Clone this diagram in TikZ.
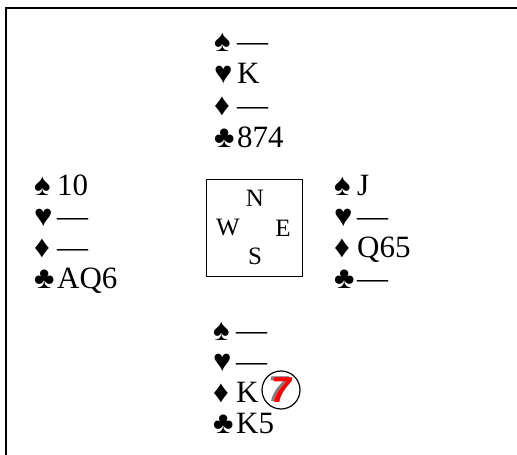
\documentclass[tikz,border=0pt]{standalone}
\usepackage{fontspec}
\setmainfont{Liberation Serif}
\newfontfamily\badgefont{Liberation Sans}
\usepackage{tikz}

\newcommand{\suitrow}[2]{\makebox[23pt][l]{#1}#2}

\begin{document}
\begin{tikzpicture}[x=1pt,y=-1pt,
    hand/.style={anchor=base west,inner sep=0pt,font=\fontsize{31}{31}\selectfont},
    seat/.style={inner sep=0pt,font=\fontsize{25}{25}\selectfont}]
        \useasboundingbox (0,0) rectangle (517,455);
        % frame
        \draw[line width=2.5pt] (6,456) -- (6,8) -- (518,8);
        % north
        \foreach \row [count=\i] in {{\suitrow{♠}{—}},{\suitrow{♥}{K}},{\suitrow{♦}{—}},{\suitrow{♣}{874}}}
          \node[hand] (north\i) at (214,{51+32*(\i-1)}) {\row};
        % west
        \foreach \row [count=\i] in {{\suitrow{♠}{10}},{\suitrow{♥}{—}},{\suitrow{♦}{—}},{\suitrow{♣}{AQ6}}}
          \node[hand] (west\i) at (34,{195+31*(\i-1)}) {\row};
        % east
        \foreach \row [count=\i] in {{\suitrow{♠}{J}},{\suitrow{♥}{—}},{\suitrow{♦}{Q65}},{\suitrow{♣}{—}}}
          \node[hand] (east\i) at (334,{195+31*(\i-1)}) {\row};
        % south
        \foreach \row [count=\i] in {{\suitrow{♠}{—}},{\suitrow{♥}{—}},{\suitrow{♦}{K}},{\suitrow{♣}{K5}}}
          \node[hand] (south\i) at (213,{340+31*(\i-1)}) {\row};
        % table
        \draw[line width=1pt] (206,179) rectangle (302,276);
        \node[seat] (seatN) at (255,198) {N};
        \node[seat] (seatW) at (228,228) {W};
        \node[seat] (seatE) at (283,228) {E};
        \node[seat] (seatS) at (255,256) {S};
        % trick badge
        \node[circle,draw,line width=1.2pt,minimum size=38pt,inner sep=0pt] (badge) at (281,390) {};
        \node[text=gray,font=\badgefont\bfseries\itshape\fontsize{36}{36}\selectfont] (badgeshadow)
          at ([xshift=-2.5pt,yshift=0.5pt]badge.center) {7};
        \node[text=red,font=\badgefont\bfseries\itshape\fontsize{36}{36}\selectfont] (badgetext)
          at ([xshift=1pt]badge.center) {7};
      \end{tikzpicture}
\end{document}
